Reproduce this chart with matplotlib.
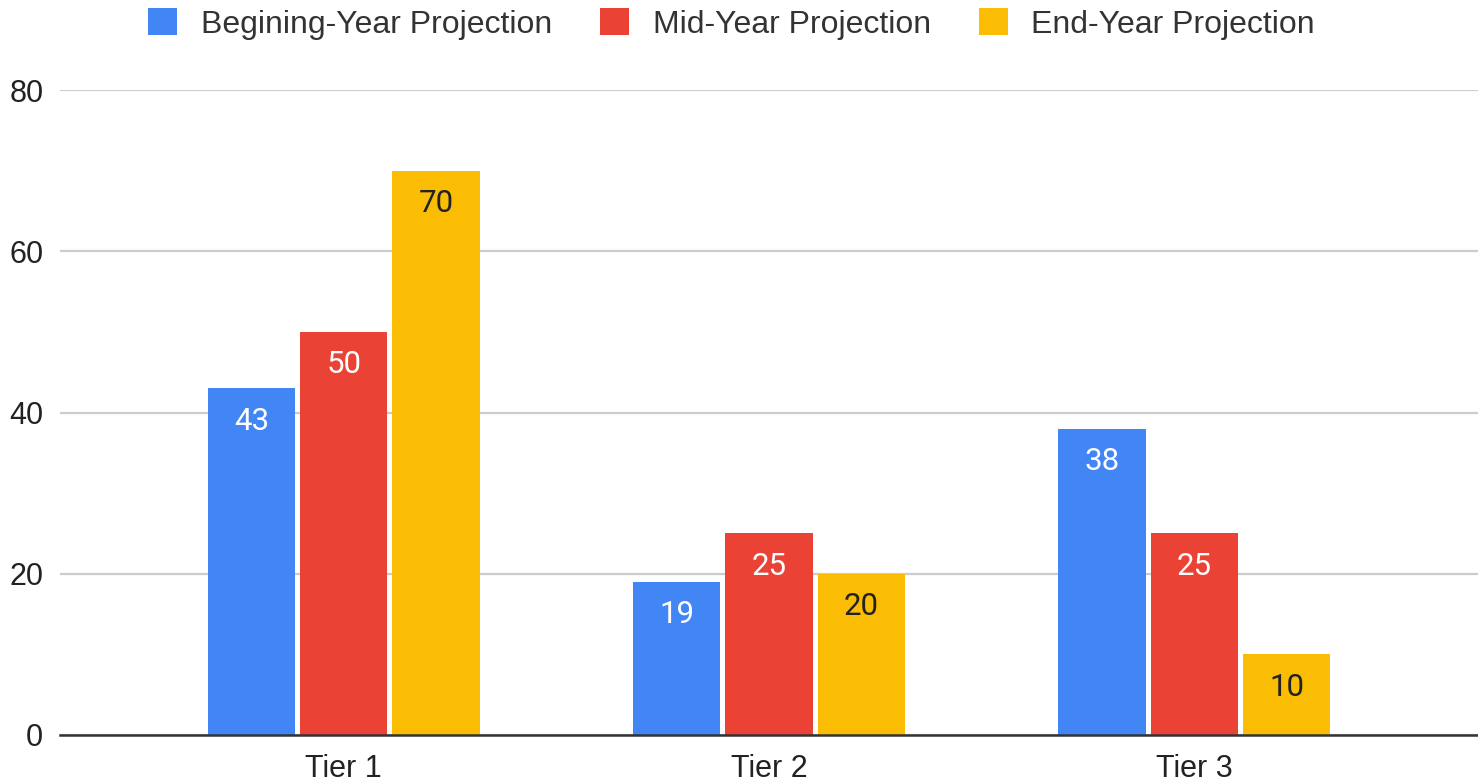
import matplotlib.pyplot as plt
import numpy as np

plt.rcParams['font.family'] = ['Liberation Sans', 'DejaVu Sans']

# data
tiers = ['Tier 1', 'Tier 2', 'Tier 3']
series = ['Begining-Year Projection', 'Mid-Year Projection', 'End-Year Projection']
begin_year = [43, 19, 38]
mid_year = [50, 25, 25]
end_year = [70, 20, 10]

colors = ['#4285F4', '#EA4335', '#FBBC04']
label_colors = ['white', 'white', '#222222']

fig = plt.figure(figsize=(14.78, 7.83), dpi=100)
ax = fig.add_axes([60 / 1478, 48 / 783, 1418 / 1478, 645 / 783])

x = np.arange(len(tiers))
width = 0.205
step = 0.217

for i, (name, vals) in enumerate(zip(series, [begin_year, mid_year, end_year])):
    pos = x + (i - 1) * step
    bars = ax.bar(pos, vals, width, color=colors[i], label=name, zorder=3)
    for b, v in zip(bars, vals):
        ax.text(b.get_x() + b.get_width() / 2, v - 4.1, str(v),
                ha='center', va='center', fontsize=22.5, family='Roboto',
                color=label_colors[i], zorder=4)

ax.set_xlim(-0.667, 2.667)
ax.set_ylim(0, 80)
ax.set_yticks([0, 20, 40, 60, 80])
ax.set_xticks(x)
ax.set_xticklabels(tiers)
ax.tick_params(axis='both', length=0, labelsize=22, colors='#222222')
ax.tick_params(axis='y', pad=12)
ax.tick_params(axis='x', pad=14)

ax.grid(axis='y', color='#cccccc', linewidth=1.6, zorder=0)
for s in ['top', 'right', 'left']:
    ax.spines[s].set_visible(False)
ax.spines['bottom'].set_color('#333333')
ax.spines['bottom'].set_linewidth(1.8)
ax.spines['bottom'].set_zorder(5)

fig.legend(loc='upper center', bbox_to_anchor=(0.495, 1.026), ncol=3,
           frameon=False, fontsize=23, handlelength=0.9, handleheight=0.9,
           handletextpad=0.75, columnspacing=1.5, labelcolor='#333333')

fig.savefig('out.png', dpi=100)
